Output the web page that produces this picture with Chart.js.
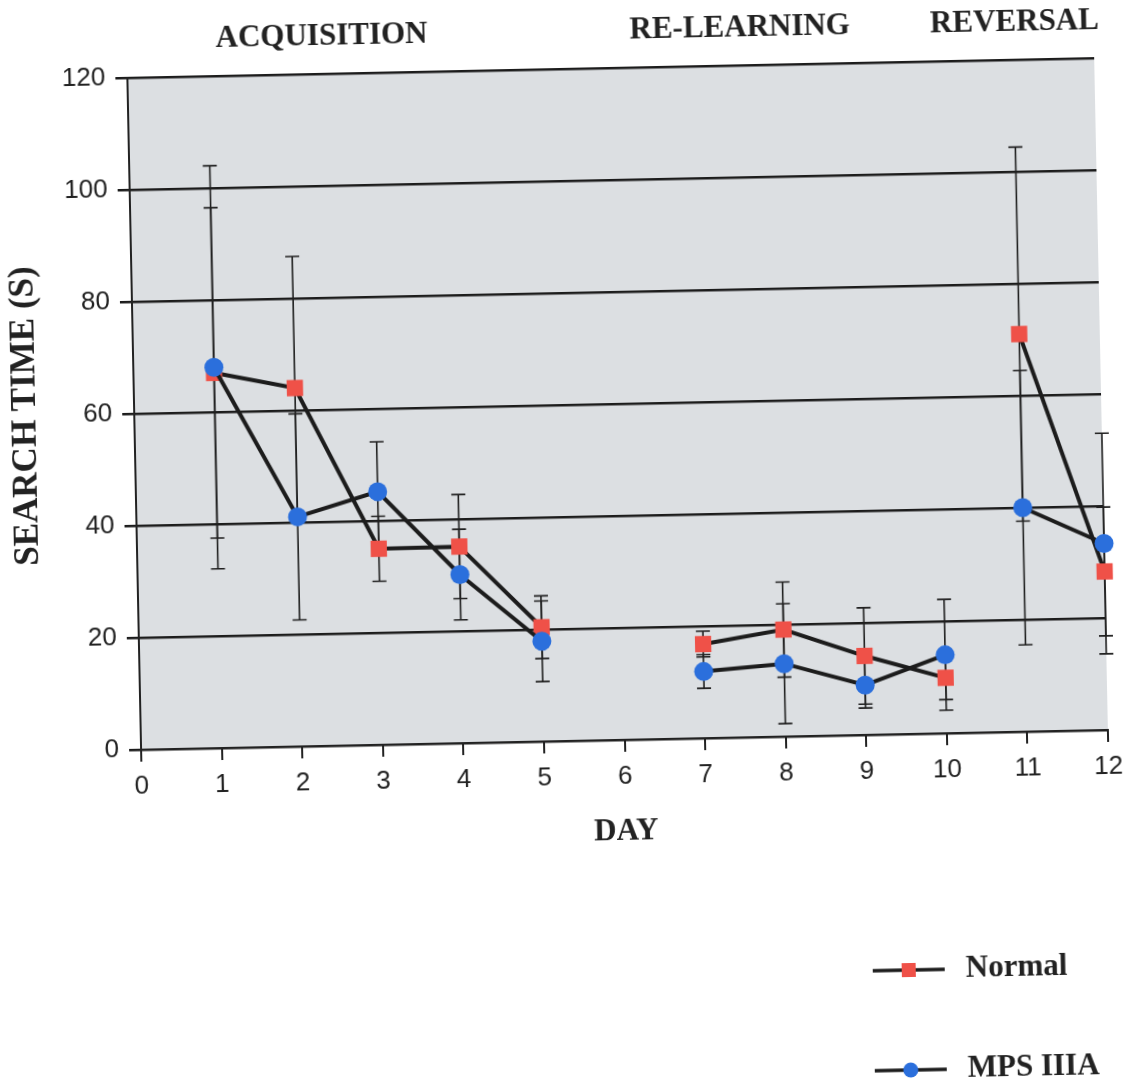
<!DOCTYPE html>
<html>
<head>
<meta charset="utf-8">
<script src="https://cdn.jsdelivr.net/npm/chart.js@4.4.1/dist/chart.umd.min.js"></script>
<style>
  html, body { margin: 0; padding: 0; background: #fff; overflow: hidden; }
  #wrap { width: 1128px; height: 1090px; transform: rotate(-1.17deg); transform-origin: 564px 545px; }
</style>
</head>
<body>
<div id="wrap"><canvas id="chart" width="1128" height="1090"></canvas></div>
<script>
// 데이터
var days = [1, 2, 3, 4, 5, 7, 8, 9, 10, 11, 12];
var normalVals = [67, 64, 35, 35.1, 20.4, 16.8, 19.1, 14.1, 9.9, 71, 28.3];
var normalErr  = [29.5, 23.5, 5.8, 9.3, 5.6, 2.3, 8.5, 8.6, 3.9, 33.4, 11.5];
var mpsVals = [68, 41, 45.2, 30.1, 17.9, 11.9, 13, 8.9, 14, 40, 33.3];
var mpsErr  = [36, 18.4, 8.9, 8.1, 7.2, 3, 10.7, 4.1, 9.9, 24.5, 19.7];
var breakAfter = [5, 10];          // 구간 사이에는 선을 긋지 않음
var phaseLabels = ['ACQUISITION', 'RE-LEARNING', 'REVERSAL'];
var phaseCenters = [2.42, 7.61, 11.02];
var yTicks = [0, 20, 40, 60, 80, 100, 120];

var lineColor = '#1c1c1c';
var serif = '"Liberation Serif", "Times New Roman", serif';
var sans = '"Liberation Sans", Arial, sans-serif';

// 플롯 배경
var plotBg = {
	id: 'plotBg',
	beforeDraw: function(chart){
		var a = chart.chartArea, ctx = chart.ctx;
		ctx.save();
		ctx.fillStyle = '#dcdfe2';
		ctx.fillRect(a.left, a.top, a.right - a.left, a.bottom - a.top);
		ctx.restore();
	}
};

// 오차 막대
var errorBars = {
	id: 'errorBars',
	beforeDatasetsDraw: function(chart){
		var ctx = chart.ctx, x = chart.scales.x, y = chart.scales.y;
		ctx.save();
		ctx.strokeStyle = '#202020';
		ctx.lineWidth = 1.6;
		chart.data.datasets.forEach(function(ds){
			ds.data.forEach(function(p, j){
				var e = ds.errors[j];
				var px = x.getPixelForValue(p.x);
				var t = y.getPixelForValue(p.y + e);
				var b = y.getPixelForValue(p.y - e);
				ctx.beginPath();
				ctx.moveTo(px, t); ctx.lineTo(px, b);
				ctx.moveTo(px - 7, t); ctx.lineTo(px + 7, t);
				ctx.moveTo(px - 7, b); ctx.lineTo(px + 7, b);
				ctx.stroke();
			});
		});
		ctx.restore();
	}
};

// 상단 구간 이름 + 범례
var extraText = {
	id: 'extraText',
	afterDraw: function(chart){
		var ctx = chart.ctx, x = chart.scales.x, a = chart.chartArea;
		ctx.save();
		ctx.fillStyle = '#222';
		ctx.font = 'bold 31px ' + serif;
		ctx.textAlign = 'center';
		ctx.textBaseline = 'middle';
		phaseLabels.forEach(function(t, i){
			ctx.fillText(t, x.getPixelForValue(phaseCenters[i]), a.top - 37);
		});

		// 범례
		var rows = [977, 1077];
		chart.data.datasets.slice().sort(function(p, q){ return q.order - p.order; }).forEach(function(ds, i){
			var cy = rows[i], cx = 900;
			ctx.strokeStyle = lineColor;
			ctx.lineWidth = 3.5;
			ctx.beginPath(); ctx.moveTo(cx - 36, cy); ctx.lineTo(cx + 36, cy); ctx.stroke();
			ctx.fillStyle = ds.pointBackgroundColor;
			if(ds.pointStyle == 'rect'){
				ctx.fillRect(cx - 7, cy - 7, 14, 14);
			}else{
				ctx.beginPath(); ctx.arc(cx, cy, 7.5, 0, Math.PI * 2); ctx.fill();
			}
			ctx.fillStyle = '#222';
			ctx.textAlign = 'left';
			ctx.fillText(ds.label, 957, cy);
		});
		ctx.restore();
	}
};

var segStyle = {
	borderColor: function(c){ return breakAfter.indexOf(c.p0.parsed.x) >= 0 ? 'transparent' : lineColor; }
};

var config = {
	type: 'line',
	data: {
		datasets: [
			{
				label: 'Normal',
				data: days.map(function(d, i){ return {x: d, y: normalVals[i]}; }),
				errors: normalErr,
				borderColor: lineColor,
				borderWidth: 4,
				pointStyle: 'rect',
				pointRadius: 11.5,
				pointBackgroundColor: '#ef5148',
				pointBorderWidth: 0,
				segment: segStyle,
				clip: false,
				order: 2
			},
			{
				label: 'MPS IIIA',
				data: days.map(function(d, i){ return {x: d, y: mpsVals[i]}; }),
				errors: mpsErr,
				borderColor: lineColor,
				borderWidth: 4,
				pointStyle: 'circle',
				pointRadius: 9.5,
				pointBackgroundColor: '#2b6fdc',
				pointBorderWidth: 0,
				segment: segStyle,
				clip: false,
				order: 1
			}
		]
	},
	options: {
		responsive: false,
		animation: false,
		layout: { padding: { top: 69, right: 24, left: 0, bottom: 0 } },
		plugins: { legend: { display: false }, tooltip: { enabled: false } },
		scales: {
			x: {
				type: 'linear',
				min: 0, max: 12,
				ticks: { stepSize: 1, color: '#222', font: { family: sans, size: 26 }, padding: 9, maxRotation: 0 },
				grid: { drawOnChartArea: false, drawTicks: true, tickLength: 12, color: '#222', lineWidth: 2 },
				border: { display: true, color: '#222', width: 2 },
				title: { display: true, text: 'DAY', color: '#222', font: { family: serif, size: 31, weight: 'bold' }, padding: { top: 0, bottom: 238 } },
				afterFit: function(s){ s.height = 349; }
			},
			y: {
				min: 0, max: 120,
				afterBuildTicks: function(s){ s.ticks = yTicks.map(function(v){ return {value: v}; }); },
				ticks: { color: '#222', font: { family: sans, size: 26 }, padding: 10 },
				grid: { color: '#1c1c1c', lineWidth: 2.5, tickLength: 12 },
				border: { display: true, color: '#222', width: 2 },
				title: { display: true, text: 'SEARCH TIME (S)', color: '#222', font: { family: serif, size: 35, weight: 'bold' }, padding: { top: 8, bottom: 0 } },
				afterFit: function(s){ s.width = 137; }
			}
		}
	},
	plugins: [plotBg, errorBars, extraText]
};

new Chart(document.getElementById('chart'), config);
</script>
</body>
</html>
